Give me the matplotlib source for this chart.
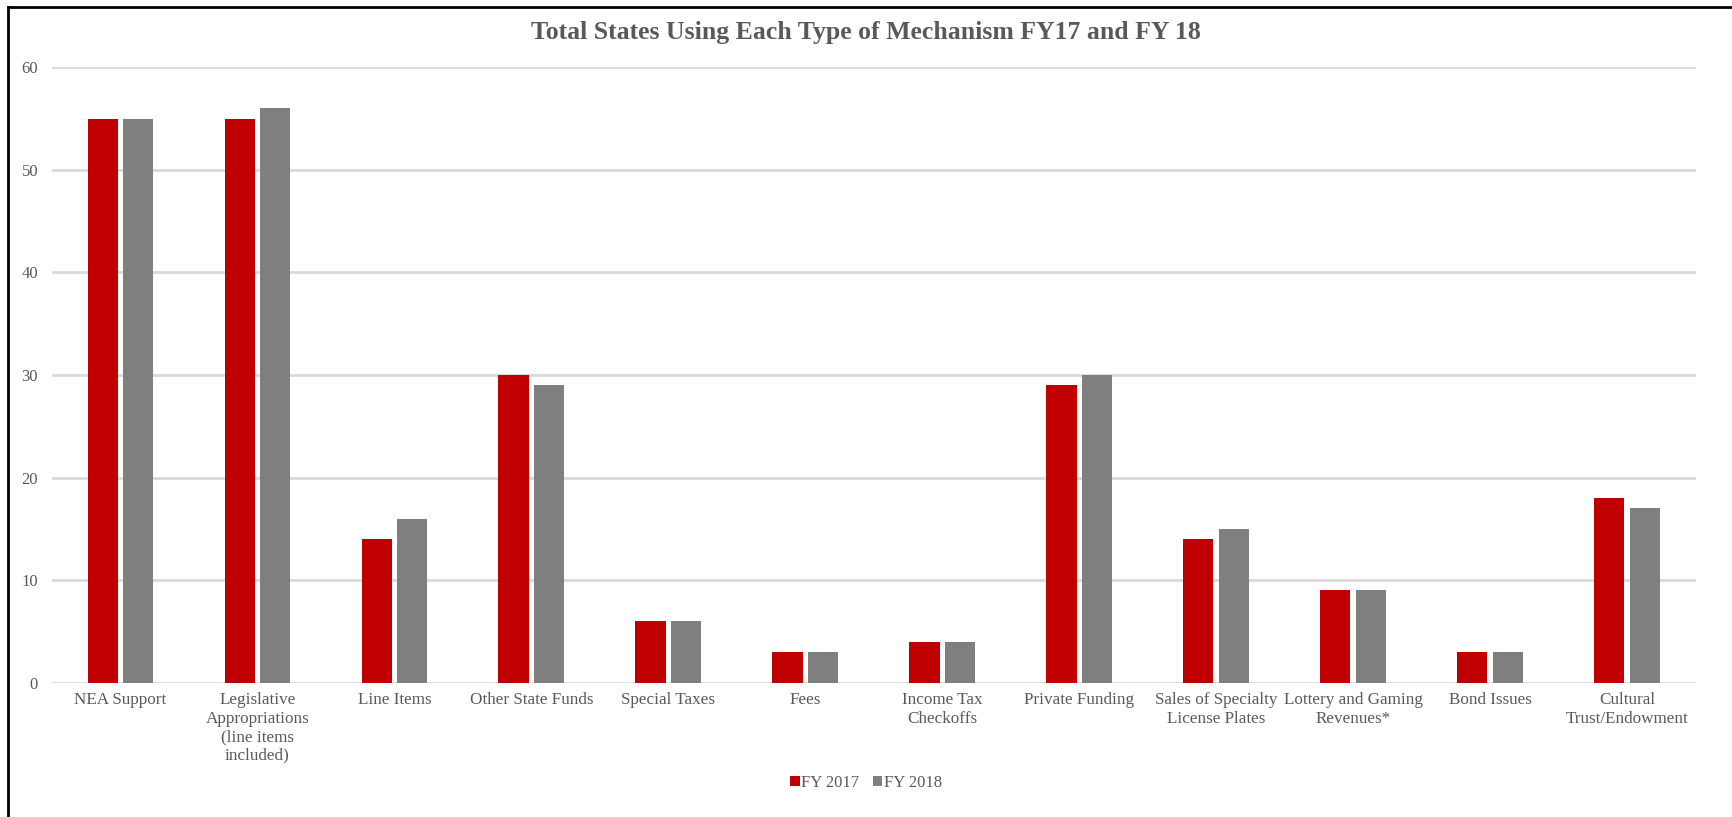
import matplotlib
matplotlib.use("Agg")
import matplotlib.pyplot as plt
import numpy as np
from matplotlib.lines import Line2D

plt.rcParams['font.family'] = ['Liberation Serif', 'DejaVu Serif']

categories = [
    "NEA Support",
    "Legislative\nAppropriations\n(line items\nincluded)",
    "Line Items",
    "Other State Funds",
    "Special Taxes",
    "Fees",
    "Income Tax\nCheckoffs",
    "Private Funding",
    "Sales of Specialty\nLicense Plates",
    "Lottery and Gaming\nRevenues*",
    "Bond Issues",
    "Cultural\nTrust/Endowment",
]
fy2017 = [55, 55, 14, 30, 6, 3, 4, 29, 14, 9, 3, 18]
fy2018 = [55, 56, 16, 29, 6, 3, 4, 30, 15, 9, 3, 17]
series_labels = ["FY 2017", "FY 2018"]
yticks = [0, 10, 20, 30, 40, 50, 60]

RED = "#C00000"
GRAY = "#7F7F7F"
TEXT = "#595959"

fig = plt.figure(figsize=(17.32, 8.17), dpi=100)
ax = fig.add_axes([0.030, 0.1644, 0.949, 0.7531])

x = np.arange(len(categories))
w = 0.22
off = 0.13
ax.bar(x - off, fy2017, width=w, color=RED, label=series_labels[0], zorder=3)
ax.bar(x + off, fy2018, width=w, color=GRAY, label=series_labels[1], zorder=3)

ax.set_xlim(-0.5, len(categories) - 0.5)
ax.set_ylim(0, 60)
ax.set_yticks(yticks)
ax.set_xticks(x)
ax.set_xticklabels(categories, fontsize=12.3, color=TEXT, linespacing=1.2)
ax.tick_params(axis='y', labelsize=12, labelcolor=TEXT, length=0, pad=10)
ax.tick_params(axis='x', length=0, pad=7)
ax.yaxis.grid(True, color="#D9D9D9", linewidth=2, zorder=0)
ax.set_axisbelow(True)
for s in ax.spines.values():
    s.set_visible(False)

fig.text(0.5, 0.960, "Total States Using Each Type of Mechanism FY17 and FY 18",
         ha='center', va='center', fontsize=18.5, fontweight='bold', color=TEXT)

fig.legend(loc='center', bbox_to_anchor=(0.5, 0.042), ncol=2, frameon=False,
           fontsize=12, handlelength=0.55, handleheight=0.55, handletextpad=0.1,
           columnspacing=0.8, labelcolor=TEXT)

# outer frame along the top and left edges
fig.add_artist(Line2D([0.0046, 1.0], [0.9914, 0.9914], color='black', linewidth=2,
                      transform=fig.transFigure))
fig.add_artist(Line2D([0.0046, 0.0046], [0.0, 0.9914], color='black', linewidth=2,
                      transform=fig.transFigure))

fig.savefig("out.png", dpi=100)
